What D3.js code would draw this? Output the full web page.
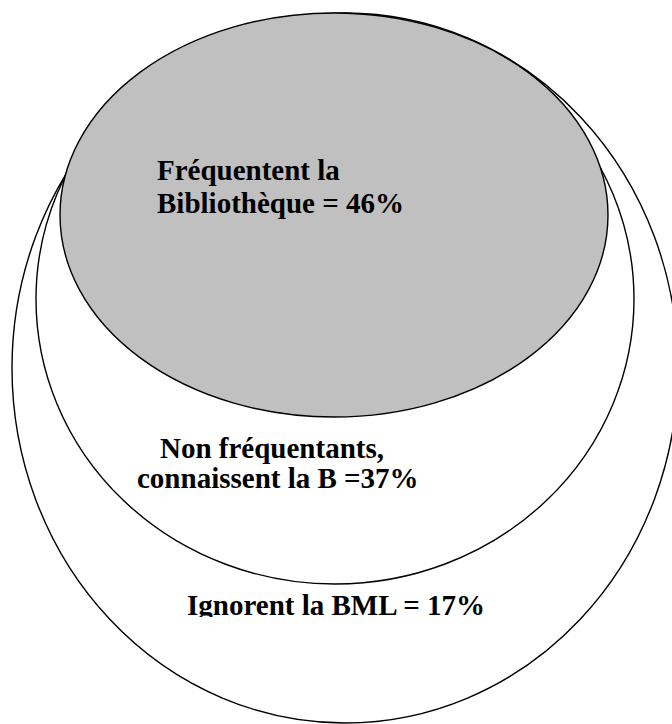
<!DOCTYPE html>
<html>
<head>
<meta charset="utf-8">
<script src="https://cdn.jsdelivr.net/npm/d3@7"></script>
<style>
html,body{margin:0;padding:0;background:#fff;}
svg{display:block;}
</style>
</head>
<body>
<svg id="chart" width="672" height="724"></svg>
<script>
// Data
const categories = ["Ignorent la BML", "Non fréquentants, connaissent la B", "Fréquentent la Bibliothèque"];
const shares = [17, 37, 46];
const labelLines = [
  ["Ignorent la BML = 17%"],
  ["Non fréquentants,", "connaissent la B =37%"],
  ["Fréquentent la", "Bibliothèque = 46%"]
];

// Layout (outer -> inner)
const shapes = [
  {cx: 345, cy: 368, rx: 333, ry: 355, fill: "#ffffff"},
  {cx: 335, cy: 299, rx: 299, ry: 285, fill: "#ffffff"},
  {cx: 334, cy: 215, rx: 274, ry: 202, fill: "#c0c0c0"}
];
const labelPos = [
  {x: [187], y: 615, lh: 30, clip: 617},
  {x: [160, 137], y: 458, lh: 30},
  {x: [157, 157], y: 180, lh: 33}
];

const svg = d3.select("#chart");
svg.append("defs").append("clipPath").attr("id", "clipOuter")
  .append("rect").attr("x", 0).attr("y", 0).attr("width", 672).attr("height", 617);

const g = svg.append("g");
g.selectAll("ellipse").data(shapes).join("ellipse")
  .attr("cx", d => d.cx).attr("cy", d => d.cy)
  .attr("rx", d => d.rx).attr("ry", d => d.ry)
  .attr("fill", d => d.fill)
  .attr("stroke", "#000").attr("stroke-width", 1.4);

labelLines.forEach((lines, i) => {
  const p = labelPos[i];
  const t = svg.append("text")
    .attr("font-family", "'Liberation Serif','Times New Roman',serif")
    .attr("font-weight", "bold")
    .attr("font-size", 29)
    .attr("fill", "#000");
  if (p.clip) t.attr("clip-path", "url(#clipOuter)");
  lines.forEach((ln, j) => {
    t.append("tspan").attr("x", p.x[j]).attr("y", p.y + j * p.lh).text(ln);
  });
});
</script>
</body>
</html>
